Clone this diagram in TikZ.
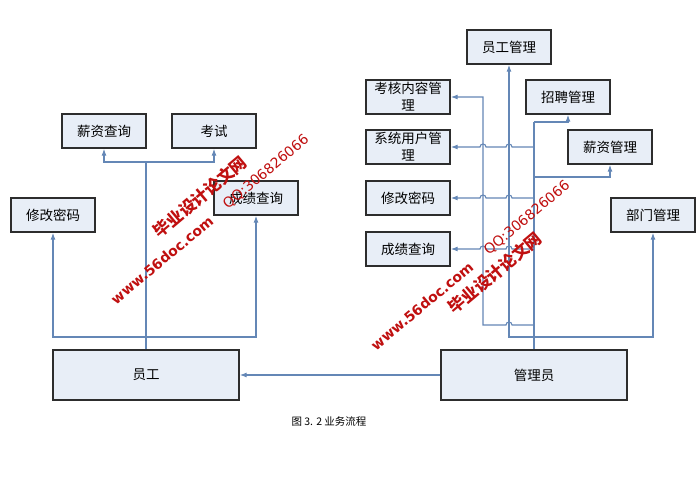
\documentclass[tikz,border=0pt]{standalone}
\usepackage{fontspec}
\setmainfont{Noto Sans CJK SC}
\newfontfamily\wmfont{DejaVu Sans}
\usetikzlibrary{arrows.meta}
\definecolor{boxfill}{RGB}{232,238,247}
\definecolor{boxborder}{RGB}{45,45,45}
\definecolor{linec}{RGB}{100,135,182}
\definecolor{wmred}{RGB}{192,16,16}
\begin{document}
\begin{tikzpicture}[x=1pt,y=-1pt,
  box/.style={draw=boxborder,line width=1.4pt,fill=boxfill,minimum width=84pt,minimum height=34pt,inner sep=0pt,align=center,font=\fontsize{13.5}{17}\selectfont},
  big/.style={box,minimum width=186pt,minimum height=50pt},
  conn/.style={draw=linec,line width=1.1pt},
  arr/.style={conn,-{Latex[length=7pt,width=5pt]}},
  wm/.style={text=wmred,rotate=40,inner sep=0pt}]
\useasboundingbox[fill=white] (0,0) rectangle (700,499);
% left boxes
\node[box] (xzcx) at (104,131) {薪资查询};
\node[box] (ks) at (214,131) {考试};
\node[box] (xgmm1) at (53,215) {修改密码};
\node[box] (cjcx1) at (256,198) {成绩查询};
\node[big] (yg) at (146,375) {员工};
% right boxes
\node[box] (yggl) at (509,47) {员工管理};
\node[box] (khnr) at (408,97) {考核内容管\\理};
\node[box] (zpgl) at (568,97) {招聘管理};
\node[box] (xtyh) at (408,147) {系统用户管\\理};
\node[box] (xzgl) at (610,147) {薪资管理};
\node[box] (xgmm2) at (408,198) {修改密码};
\node[box] (bmgl) at (653,215) {部门管理};
\node[box] (cjcx2) at (408,249) {成绩查询};
\node[big] (gly) at (534,375) {管理员};
% caption
\node[font=\fontsize{10.5}{12}\selectfont] (cap) at (329,421) {图 3. 2 业务流程};
% left connectors
\coordinate (ytop) at (146,162);
\coordinate (ylow) at (146,337);
\draw[conn] (yg.north) -- (ytop);
\draw[arr] (ytop) -| (xzcx.south);
\draw[arr] (ytop) -| (ks.south);
\draw[arr] (ylow) -| (xgmm1.south);
\draw[arr] (ylow) -| (cjcx1.south);
% manager to employee
\draw[arr] (gly.west) -- (yg.east);
% right connectors
\coordinate (gzp) at (534,122);
\coordinate (gxz) at (534,177);
\coordinate (gyg) at (534,337);
\coordinate (gkh) at (534,325);
\draw[conn] (gly.north) -- (gzp);
\draw[arr] (gzp) -| (zpgl.south);
\draw[arr] (gxz) -| (xzgl.south);
\draw[arr] (gyg) -- (509,337) -- (yggl.south);
\draw[arr] (gyg) -| (bmgl.south);
\draw[arr] (gkh) -- (512,325) arc (0:-180:3) -- (483,325) -- (483,97) -- (khnr.east);
\draw[arr] (534,147) -- (512,147) arc (0:-180:3) -- (486,147) arc (0:-180:3) -- (xtyh.east);
\draw[arr] (534,198) -- (512,198) arc (0:-180:3) -- (486,198) arc (0:-180:3) -- (xgmm2.east);
\draw[arr] (534,249) -- (512,249) arc (0:-180:3) -- (486,249) arc (0:-180:3) -- (cjcx2.east);
% watermarks
\node[wm,font=\wmfont\bfseries\fontsize{14}{14}\selectfont] (w1) at (162,260) {www.56doc.com};
\node[wm,font=\bfseries\fontsize{16.5}{16.5}\selectfont] (w2) at (200,197) {毕业设计论文网};
\node[wm,font=\wmfont\fontsize{14}{14}\selectfont] (w3) at (266,172) {QQ:306826066};
\node[wm,font=\wmfont\bfseries\fontsize{14}{14}\selectfont] (w4) at (422,306) {www.56doc.com};
\node[wm,font=\bfseries\fontsize{16.5}{16.5}\selectfont] (w5) at (495,273) {毕业设计论文网};
\node[wm,font=\wmfont\fontsize{14}{14}\selectfont] (w6) at (527,218) {QQ:306826066};
\end{tikzpicture}
\end{document}
